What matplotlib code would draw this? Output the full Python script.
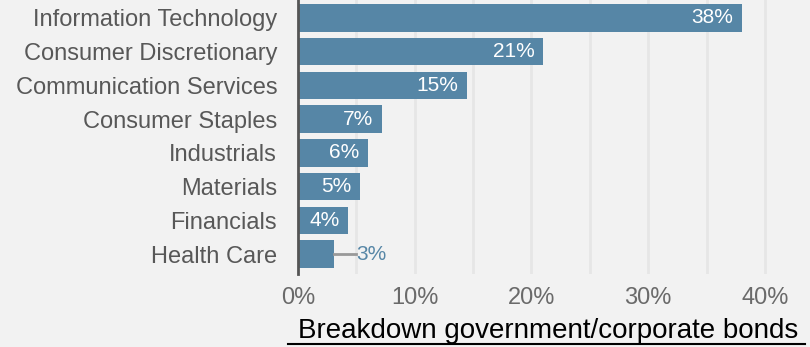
import matplotlib.pyplot as plt
import numpy as np

plt.rcParams['font.family'] = ['Liberation Sans', 'DejaVu Sans']

sectors = ["Information Technology", "Consumer Discretionary", "Communication Services",
           "Consumer Staples", "Industrials", "Materials", "Financials", "Health Care"]
weights = [38.0, 21.0, 14.5, 7.2, 6.0, 5.3, 4.3, 3.1]
labels = ["38%", "21%", "15%", "7%", "6%", "5%", "4%", "3%"]
xticks = [0, 10, 20, 30, 40]
grid_x = [5, 10, 15, 20, 25, 30, 35, 40]

bar_color = "#5686a6"
bg = "#f2f2f2"

fig = plt.figure(figsize=(8.1, 3.47), dpi=100, facecolor=bg)
ax = fig.add_axes([298 / 810, 1 - 274 / 347, (800 - 298) / 810, 274 / 347])
ax.set_facecolor(bg)

y = np.arange(len(sectors))
ax.barh(y, weights, height=0.82, color=bar_color, zorder=2)
ax.set_ylim(len(sectors) - 0.41, -0.53)
ax.set_xlim(0, 43)

# light grid every 5%
for g in grid_x:
    ax.axvline(g, color="#e6e6e6", lw=2, zorder=0)

for i, (w, lab) in enumerate(zip(weights, labels)):
    if w > 3.5:
        ax.text(w - 0.75, i, lab, ha="right", va="center", color="white", fontsize=15, zorder=3)
    else:
        # small bar: leader line out to the 5% gridline
        ax.plot([w, 5], [i, i], color="#999999", lw=2, zorder=3)
        ax.text(5, i, lab, ha="left", va="center", color=bar_color, fontsize=15, zorder=3)

ax.set_yticks(y)
ax.set_yticklabels(sectors, fontsize=17, color="#585858")
ax.set_xticks(xticks)
ax.set_xticklabels([f"{t}%" for t in xticks], fontsize=17, color="#6a6a6a")
ax.tick_params(axis="y", length=0, pad=15)
ax.tick_params(axis="x", length=0, pad=9)
for s in ["top", "right", "bottom"]:
    ax.spines[s].set_visible(False)
ax.spines["left"].set_color("#555555")
ax.spines["left"].set_linewidth(2)
ax.spines["left"].set_zorder(4)

fig.text(548 / 810, 1 - 331 / 347, "Breakdown government/corporate bonds",
         ha="center", va="center", fontsize=20, color="black")
fig.add_artist(plt.Line2D([288 / 810, 805 / 810], [1 - 344 / 347, 1 - 344 / 347],
                          color="black", lw=1.5))

fig.savefig("out.png", dpi=100, facecolor=bg)
